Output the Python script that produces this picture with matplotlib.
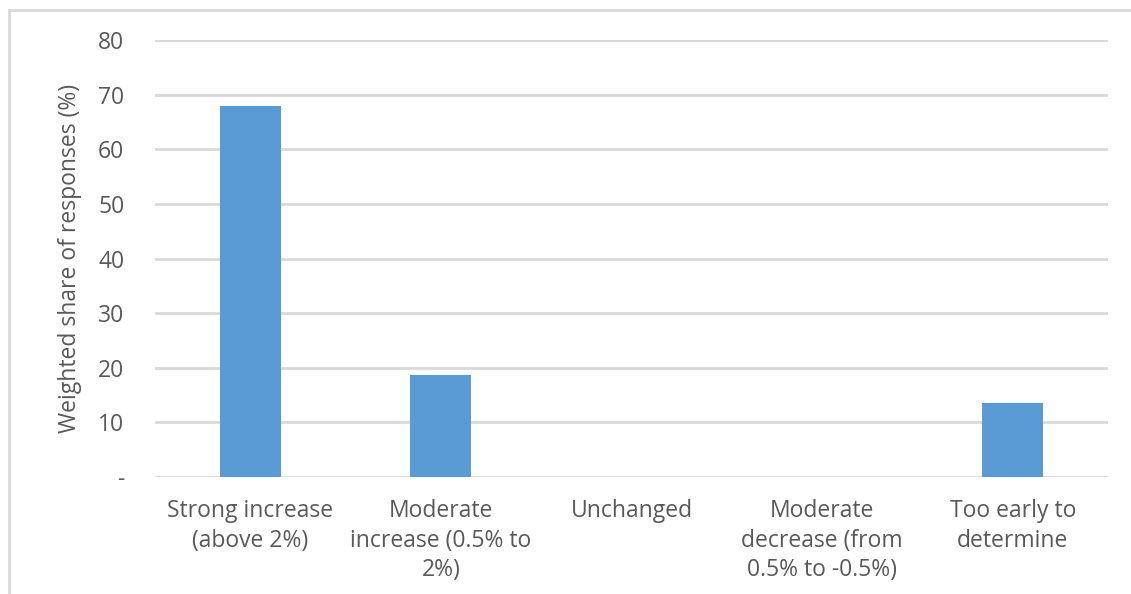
import matplotlib
matplotlib.use("Agg")
import matplotlib.pyplot as plt
from matplotlib.lines import Line2D

categories = [
    "Strong increase\n(above 2%)",
    "Moderate\nincrease (0.5% to\n2%)",
    "Unchanged",
    "Moderate\ndecrease (from\n0.5% to -0.5%)",
    "Too early to\ndetermine",
]
shares = [68.0, 18.7, 0.0, 0.0, 13.6]
yticks = [0, 10, 20, 30, 40, 50, 60, 70, 80]
ytick_labels = ["-", "10", "20", "30", "40", "50", "60", "70", "80"]

plt.rcParams["font.family"] = ["Open Sans", "DejaVu Sans"]
text_color = "#595959"
grid_color = "#d9d9d9"
bar_color = "#5b9bd5"

W, H = 1131, 594
fig = plt.figure(figsize=(W / 100, H / 100), dpi=100)
ax = fig.add_axes([155 / W, 1 - 477 / H, (1108 - 155) / W, (477 - 40) / H])

x = list(range(len(categories)))
ax.bar(x, shares, width=0.32, color=bar_color, zorder=3)

ax.set_xlim(-0.5, len(categories) - 0.5)
ax.set_ylim(0, 80)
ax.set_yticks(yticks)
ax.set_yticklabels(ytick_labels)
ax.set_xticks(x)
ax.set_xticklabels(categories, linespacing=1.3, va="top")

ax.yaxis.grid(True, color=grid_color, linewidth=2, zorder=0)
for s in ax.spines.values():
    s.set_visible(False)
ax.tick_params(axis="both", length=0, colors=text_color, labelsize=16.5)
ax.tick_params(axis="y", pad=22)
ax.tick_params(axis="x", pad=16)

ax.set_ylabel("Weighted share of responses (%)", color=text_color, fontsize=16.5, labelpad=12)

# Chart area outline (top and left edges)
fig.add_artist(Line2D([9 / W, 9 / W], [0, 1 - 10 / H], transform=fig.transFigure,
                      color=grid_color, linewidth=2))
fig.add_artist(Line2D([9 / W, 1], [1 - 10 / H, 1 - 10 / H], transform=fig.transFigure,
                      color=grid_color, linewidth=2))

fig.savefig("out.png", dpi=100, facecolor="white")
